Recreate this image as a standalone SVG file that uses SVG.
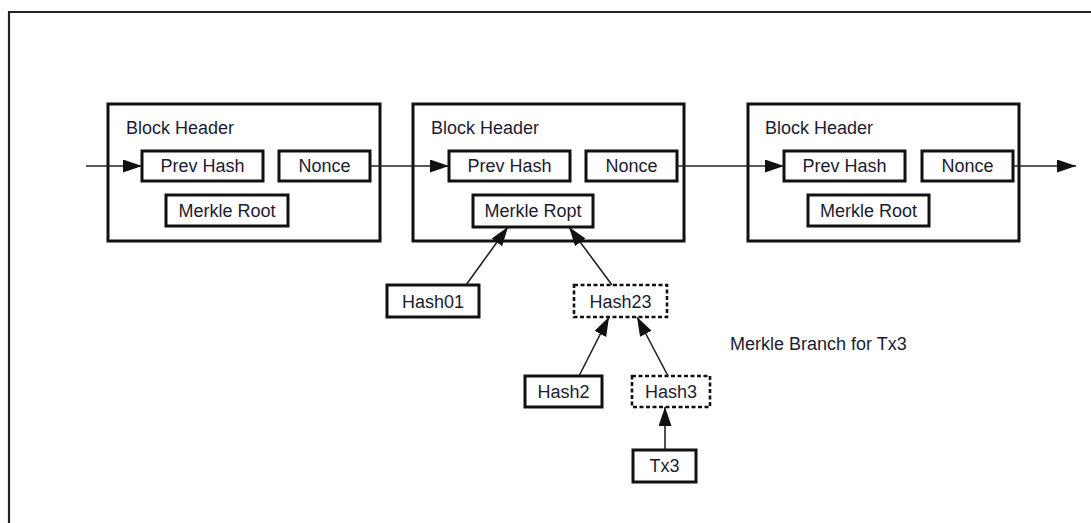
<svg xmlns="http://www.w3.org/2000/svg" width="1091" height="523" viewBox="0 0 1091 523">
<defs>
<style>
.t{font-family:"Liberation Sans",Arial,sans-serif;font-size:18px;fill:#1c1c30}
.c{text-anchor:middle}
.blk{fill:#fff;stroke:#111;stroke-width:3}
.box{fill:#fff;stroke:#111;stroke-width:3}
.dash{fill:#fff;stroke:#111;stroke-width:2.6;stroke-dasharray:4 2.5}
.ln{stroke:#222;stroke-width:1.6;fill:none}
</style>
<marker id="ah" markerUnits="userSpaceOnUse" markerWidth="21" markerHeight="14" refX="19" refY="6.5" orient="auto">
<path d="M0,0 L19,6.5 L0,13 Z" fill="#111"/>
</marker>
</defs>
<rect width="1091" height="523" fill="#fff"/>
<path d="M9,523 V12 H1091" fill="none" stroke="#222" stroke-width="2.2"/>
<g id="block1">
<rect class="blk" x="108" y="104" width="272" height="137"/>
<text class="t" x="126" y="134">Block Header</text>
</g>
<g id="prevhash1"><rect class="box" x="142" y="151" width="121" height="30"/><text class="t c" x="202.5" y="172">Prev Hash</text></g>
<g id="nonce1"><rect class="box" x="279" y="151" width="91" height="30"/><text class="t c" x="324.5" y="172">Nonce</text></g>
<g id="merkleroot1"><rect class="box" x="166" y="195" width="122" height="31"/><text class="t c" x="227" y="217">Merkle Root</text></g>
<g id="block2">
<rect class="blk" x="413" y="104" width="271" height="137"/>
<text class="t" x="431" y="134">Block Header</text>
</g>
<g id="prevhash2"><rect class="box" x="449" y="151" width="121" height="30"/><text class="t c" x="509.5" y="172">Prev Hash</text></g>
<g id="nonce2"><rect class="box" x="586" y="151" width="91" height="30"/><text class="t c" x="631.5" y="172">Nonce</text></g>
<g id="merkleroot2"><rect class="box" x="473" y="195" width="120" height="32"/><text class="t c" x="533" y="217">Merkle Ropt</text></g>
<g id="block3">
<rect class="blk" x="748" y="104" width="271" height="137"/>
<text class="t" x="765" y="134">Block Header</text>
</g>
<g id="prevhash3"><rect class="box" x="784" y="151" width="121" height="30"/><text class="t c" x="844.5" y="172">Prev Hash</text></g>
<g id="nonce3"><rect class="box" x="922" y="151" width="91" height="30"/><text class="t c" x="967.5" y="172">Nonce</text></g>
<g id="merkleroot3"><rect class="box" x="808" y="195" width="121" height="31"/><text class="t c" x="868.5" y="217">Merkle Root</text></g>
<g id="hash01"><rect class="box" x="387" y="285" width="92" height="32"/><text class="t c" x="433" y="308">Hash01</text></g>
<g id="hash23"><rect class="dash" x="574" y="285" width="93" height="32"/><text class="t c" x="620.5" y="308">Hash23</text></g>
<g id="hash2"><rect class="box" x="525" y="376" width="77" height="31"/><text class="t c" x="563.5" y="398">Hash2</text></g>
<g id="hash3"><rect class="dash" x="632" y="376" width="78" height="31"/><text class="t c" x="671" y="398">Hash3</text></g>
<g id="tx3"><rect class="box" x="633" y="450" width="63" height="32"/><text class="t c" x="664.5" y="472">Tx3</text></g>
<g id="label"><text class="t" x="730" y="350">Merkle Branch for Tx3</text></g>
<g id="connectors">
<line class="ln" x1="86" y1="166" x2="142" y2="166" marker-end="url(#ah)"/>
<line class="ln" x1="370" y1="166" x2="449" y2="166" marker-end="url(#ah)"/>
<line class="ln" x1="677" y1="166" x2="784" y2="166" marker-end="url(#ah)"/>
<line class="ln" x1="1013" y1="166" x2="1076" y2="166" marker-end="url(#ah)"/>
<line class="ln" x1="466" y1="285" x2="508" y2="227" marker-end="url(#ah)"/>
<line class="ln" x1="612" y1="285" x2="569" y2="227" marker-end="url(#ah)"/>
<line class="ln" x1="579" y1="376" x2="609" y2="317" marker-end="url(#ah)"/>
<line class="ln" x1="668" y1="376" x2="637" y2="317" marker-end="url(#ah)"/>
<line class="ln" x1="665" y1="450" x2="665" y2="407" marker-end="url(#ah)"/>
</g>
</svg>
